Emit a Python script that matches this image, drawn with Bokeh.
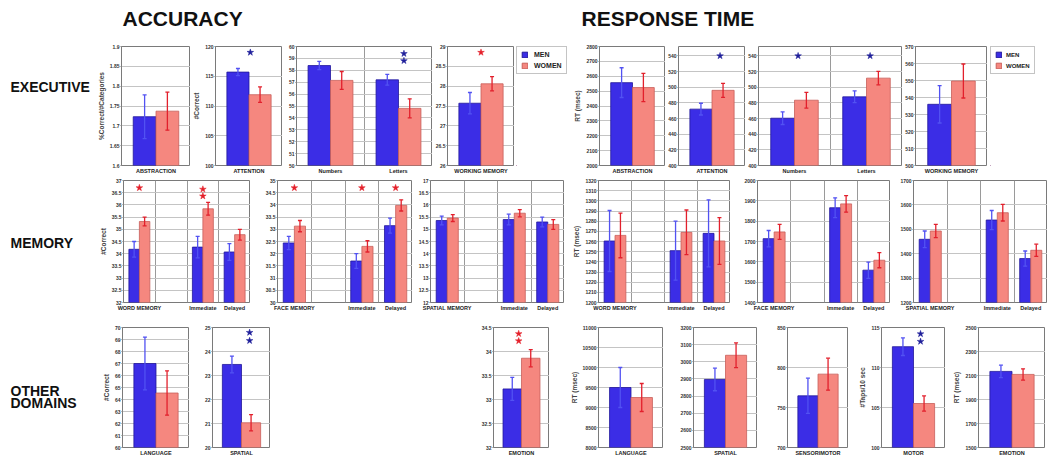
from bokeh.plotting import figure
from bokeh.layouts import column, row
from bokeh.models import (Range1d, FixedTicker, Whisker, TeeHead, ColumnDataSource,
                          Legend, LegendItem)
from bokeh.core.properties import value
from bokeh.embed import file_html
from bokeh.resources import INLINE

# ----------------------------------------------------------------- DATA
# ACCURACY - EXECUTIVE
abs_acc_cats = ["ABSTRACTION"]
abs_acc_men, abs_acc_men_se = [1.723], [0.055]
abs_acc_women, abs_acc_women_se = [1.737], [0.048]

att_acc_cats = ["ATTENTION"]
att_acc_men, att_acc_men_se = [115.7], [0.6]
att_acc_women, att_acc_women_se = [111.9], [1.3]
att_acc_star_cats, att_acc_stars = ["ATTENTION"], [119.0]

nl_acc_cats = ["Numbers", "Letters"]
nl_acc_men, nl_acc_men_se = [58.4, 57.2], [0.35, 0.45]
nl_acc_women, nl_acc_women_se = [57.15, 54.8], [0.75, 0.8]
nl_acc_star_cats, nl_acc_stars = ["Letters", "Letters"], [59.4, 58.8]

wm_acc_cats = ["WORKING MEMORY"]
wm_acc_men, wm_acc_men_se = [27.57], [0.27]
wm_acc_women, wm_acc_women_se = [28.06], [0.18]
wm_acc_star_cats, wm_acc_stars = ["WORKING MEMORY"], [28.85]

# RESPONSE TIME - EXECUTIVE
abs_rt_men, abs_rt_men_se = [2557], [100]
abs_rt_women, abs_rt_women_se = [2524], [95]

att_rt_men, att_rt_men_se = [472], [7.5]
att_rt_women, att_rt_women_se = [496], [9]
att_rt_star_cats, att_rt_stars = ["ATTENTION"], [540]

nl_rt_men, nl_rt_men_se = [460.4, 487.7], [8, 7.5]
nl_rt_women, nl_rt_women_se = [483.4, 511.6], [10, 8.5]
nl_rt_star_cats, nl_rt_stars = ["Numbers", "Letters"], [540, 540]

wm_rt_men, wm_rt_men_se = [536], [11]
wm_rt_women, wm_rt_women_se = [549.7], [10]

# MEMORY (slot 2 of each panel is an empty gap)
word_cats = ["WORD MEMORY", " ", "Immediate", "Delayed"]
face_cats = ["FACE MEMORY", " ", "Immediate", "Delayed"]
spat_cats = ["SPATIAL MEMORY", " ", "Immediate", "Delayed"]
word_bar_cats = ["WORD MEMORY", "Immediate", "Delayed"]
face_bar_cats = ["FACE MEMORY", "Immediate", "Delayed"]
spat_bar_cats = ["SPATIAL MEMORY", "Immediate", "Delayed"]

word_acc_men, word_acc_men_se = [34.18, 34.27, 34.07], [0.32, 0.44, 0.34]
word_acc_women, word_acc_women_se = [35.32, 35.84, 34.78], [0.18, 0.26, 0.22]
word_acc_star_cats = ["WORD MEMORY", "Immediate", "Immediate"]
word_acc_stars = [36.7, 36.64, 36.36]

face_acc_men, face_acc_men_se = [32.44, 31.7, 33.15], [0.27, 0.3, 0.31]
face_acc_women, face_acc_women_se = [33.13, 32.3, 33.98], [0.23, 0.23, 0.23]
face_acc_star_cats = ["FACE MEMORY", "Immediate", "Delayed"]
face_acc_stars = [34.7, 34.7, 34.7]

spat_acc_men, spat_acc_men_se = [15.36, 15.4, 15.3], [0.18, 0.22, 0.2]
spat_acc_women, spat_acc_women_se = [15.46, 15.66, 15.2], [0.14, 0.15, 0.2]

word_rt_men, word_rt_men_se = [1260.5, 1251, 1268], [30, 29, 33]
word_rt_women, word_rt_women_se = [1266, 1269, 1260.5], [22, 22, 23]

face_rt_men, face_rt_men_se = [1714, 1866, 1559], [40, 49, 40]
face_rt_women, face_rt_women_se = [1747, 1885, 1608], [37, 41, 37]

spat_rt_men, spat_rt_men_se = [1459, 1538, 1380], [34, 39, 31]
spat_rt_women, spat_rt_women_se = [1493, 1568, 1414], [27, 34, 25]

# OTHER DOMAINS
lang_acc_men, lang_acc_men_se = [67.0], [2.2]
lang_acc_women, lang_acc_women_se = [64.54], [1.85]

spatial_acc_men, spatial_acc_men_se = [23.46], [0.35]
spatial_acc_women, spatial_acc_women_se = [21.03], [0.34]
spatial_acc_star_cats, spatial_acc_stars = ["SPATIAL", "SPATIAL"], [24.79, 24.45]

emo_acc_men, emo_acc_men_se = [33.22], [0.24]
emo_acc_women, emo_acc_women_se = [33.86], [0.18]
emo_acc_star_cats, emo_acc_stars = ["EMOTION", "EMOTION"], [34.37, 34.22]

lang_rt_men, lang_rt_men_se = [9500], [500]
lang_rt_women, lang_rt_women_se = [9250], [350]

spatial_rt_men, spatial_rt_men_se = [2897], [66]
spatial_rt_women, spatial_rt_women_se = [3038], [72]

sens_rt_men, sens_rt_men_se = [764.6], [22]
sens_rt_women, sens_rt_women_se = [791.7], [20]

motor_men, motor_men_se = [112.6], [1.1]
motor_women, motor_women_se = [105.5], [0.95]
motor_star_cats, motor_stars = ["MOTOR", "MOTOR"], [114.2, 113.25]

emo_rt_men, emo_rt_men_se = [2134], [52]
emo_rt_women, emo_rt_women_se = [2109], [47]

series_labels = ["MEN", "WOMEN"]

# ----------------------------------------------------------------- STYLE
FONT = "Liberation Sans"
MEN_FILL, MEN_EDGE, MEN_ERR, MEN_STAR = "#3b2de6", "#22189a", "#5252f2", "#1f1f9a"
WOMEN_FILL, WOMEN_EDGE, WOMEN_ERR, WOMEN_STAR = "#f5877f", "#c8605a", "#e2202c", "#e4202a"
LEFT = 0


def ticks_of(y0, y1, step):
    n = int(round((y1 - y0) / step))
    return [round(y0 + i * step, 6) for i in range(n + 1)]


def bar_panel(spec, bl, bt, fh, bb):
    cats = spec["cats"]
    n = len(cats)
    fw = spec["x1"] - spec["x0"]
    y0, y1 = spec["yr"]
    p = figure(width=bl + fw, height=bt + fh + bb, title=None,
               x_range=Range1d(0, n), y_range=Range1d(y0, y1),
               output_backend="svg", toolbar_location=None, tools="",
               min_border_left=bl, min_border_right=0,
               min_border_top=bt, min_border_bottom=bb)
    p.background_fill_color = "white"
    p.border_fill_color = "white"
    p.outline_line_color = "#7a7a7a"
    p.outline_line_width = 1

    centers = {c: i + 0.5 for i, c in enumerate(cats)}
    xs = [centers[c] for c in spec.get("bar_cats", cats)]
    half = 0.165
    for sign, vals, ses, fill, edge, err in (
            (-1, spec["men"], spec["men_se"], MEN_FILL, MEN_EDGE, MEN_ERR),
            (1, spec["women"], spec["women_se"], WOMEN_FILL, WOMEN_EDGE, WOMEN_ERR)):
        src = ColumnDataSource(dict(
            x=[x + sign * half for x in xs], top=vals,
            lower=[v - s for v, s in zip(vals, ses)],
            upper=[v + s for v, s in zip(vals, ses)]))
        p.vbar(x="x", top="top", bottom=y0, width=0.33, source=src,
               fill_color=fill, line_color=edge, line_width=0.8)
        w = Whisker(source=src, base="x", lower="lower", upper="upper",
                    line_color=err, line_width=1.3, level="overlay",
                    upper_head=TeeHead(size=4, line_color=err, line_width=1.3),
                    lower_head=TeeHead(size=4, line_color=err, line_width=1.3))
        p.add_layout(w)

    if spec.get("star_cats"):
        dx = spec.get("star_dx", 0.0)
        p.scatter(x=[centers[c] + dx for c in spec["star_cats"]], y=spec["stars"],
                  marker="star", size=7, color=spec["star_color"], line_width=0.5)

    yt = ticks_of(y0, spec.get("ytop", y1), spec["step"])
    ya = p.yaxis[0]
    ya.ticker = FixedTicker(ticks=yt)
    ya.major_label_overrides = {t: f"{t:g}" for t in yt}
    ya.major_label_text_font = FONT
    ya.major_label_text_font_style = "bold"
    ya.major_label_text_font_size = "5px"
    ya.major_label_text_color = "#333333"
    ya.major_label_standoff = 1
    ya.major_tick_out = 1
    ya.major_tick_in = 0
    ya.major_tick_line_color = "#777777"
    ya.minor_tick_line_color = None
    ya.axis_line_color = None
    if spec.get("ylabel"):
        ya.axis_label = spec["ylabel"]
        ya.axis_label_text_font = FONT
        ya.axis_label_text_font_style = "bold"
        ya.axis_label_text_font_size = "6.5px"
        ya.axis_label_standoff = 2

    xa = p.xaxis[0]
    xa.ticker = FixedTicker(ticks=[i + 0.5 for i in range(n)])
    xa.major_label_overrides = {i + 0.5: c for i, c in enumerate(cats)}
    xa.major_label_text_font = FONT
    xa.major_label_text_font_style = "bold"
    xa.major_label_text_font_size = "5.5px"
    xa.major_label_text_color = "#222222"
    xa.major_label_standoff = 2
    xa.major_tick_out = 0
    xa.major_tick_in = 0
    xa.minor_tick_line_color = None
    xa.axis_line_color = None

    p.ygrid.ticker = FixedTicker(ticks=yt)
    p.ygrid.grid_line_color = "#c4c4c4"
    p.ygrid.grid_line_width = 1
    if n > 1:
        p.xgrid.ticker = FixedTicker(ticks=list(range(1, n)))
        p.xgrid.grid_line_color = "#9a9a9a"
    else:
        p.xgrid.grid_line_color = None
    return p


def blank_fig(w, h, bl=0, bt=0):
    p = figure(width=w, height=h, title=None, x_range=Range1d(0, 1), y_range=Range1d(0, 1),
               x_axis_type=None, y_axis_type=None, output_backend="svg",
               toolbar_location=None, tools="", min_border_left=bl, min_border_right=0,
               min_border_top=bt, min_border_bottom=0)
    p.outline_line_color = None
    p.background_fill_color = "white"
    p.border_fill_color = "white"
    return p


def text_fig(w, h, items, size):
    p = blank_fig(w, h)
    p.x_range = Range1d(0, w)
    p.y_range = Range1d(0, h)
    for x, y_top, txt in items:
        p.text(x=[x], y=[h - y_top], text=[txt], text_font=value(FONT),
               text_font_style="bold", text_font_size=size, text_baseline="middle",
               text_align="left", text_color="#111111")
    return p


def legend_fig(w, h, x_off, top_off, font_size, standoff):
    p = blank_fig(w, h, bl=x_off, bt=top_off)
    # legend proxies: one bar each, placed outside the visible range
    r1 = p.vbar(x=[-5], top=[-5], bottom=-6, width=1, fill_color=MEN_FILL, line_color=MEN_EDGE)
    r2 = p.vbar(x=[-5], top=[-5], bottom=-6, width=1, fill_color=WOMEN_FILL, line_color=WOMEN_EDGE)
    leg = Legend(items=[LegendItem(label=series_labels[0], renderers=[r1]),
                        LegendItem(label=series_labels[1], renderers=[r2])],
                 location="top_left", orientation="vertical",
                 glyph_width=7, glyph_height=7, label_height=7, label_width=10,
                 label_standoff=standoff, spacing=4, padding=4, margin=0,
                 border_line_color="#8a8a8a", border_line_width=1,
                 background_fill_color="white", background_fill_alpha=1,
                 label_text_font=FONT, label_text_font_style="bold",
                 label_text_font_size=font_size, label_text_color="#222222")
    p.add_layout(leg)
    return p


def build_row(label_items, label_w, specs, bt, fh, bb):
    h = bt + fh + bb
    kids = [text_fig(label_w, h, label_items, "14px")]
    cursor = LEFT + label_w
    for spec in specs:
        if spec.get("legend"):
            lw = spec["x1"] - cursor
            kids.append(legend_fig(lw, h, spec["x_off"], spec["top_off"],
                                   spec["font"], spec["standoff"]))
            cursor = spec["x1"]
            continue
        bl = spec["x0"] - cursor
        kids.append(bar_panel(spec, bl, bt, fh, bb))
        cursor = spec["x1"]
    return row(*kids, spacing=0)


row1 = [
    dict(x0=121, x1=190, cats=abs_acc_cats, men=abs_acc_men, men_se=abs_acc_men_se,
         women=abs_acc_women, women_se=abs_acc_women_se, yr=(1.6, 1.9), step=0.05,
         ylabel="%Correct/#Categories"),
    dict(x0=214, x1=282, cats=att_acc_cats, men=att_acc_men, men_se=att_acc_men_se,
         women=att_acc_women, women_se=att_acc_women_se, yr=(100, 120), step=5,
         ylabel="#Correct", star_cats=att_acc_star_cats, stars=att_acc_stars,
         star_color=MEN_STAR, star_dx=0.02),
    dict(x0=296, x1=432, cats=nl_acc_cats, men=nl_acc_men, men_se=nl_acc_men_se,
         women=nl_acc_women, women_se=nl_acc_women_se, yr=(50, 60), step=1,
         star_cats=nl_acc_star_cats, stars=nl_acc_stars, star_color=MEN_STAR, star_dx=0.08),
    dict(x0=447, x1=514, cats=wm_acc_cats, men=wm_acc_men, men_se=wm_acc_men_se,
         women=wm_acc_women, women_se=wm_acc_women_se, yr=(26, 29), step=0.5,
         star_cats=wm_acc_star_cats, stars=wm_acc_stars, star_color=WOMEN_STAR),
    dict(legend=True, x1=571, x_off=2, top_off=6, font="7px", standoff=6),
    dict(x0=599, x1=665, cats=abs_acc_cats, men=abs_rt_men, men_se=abs_rt_men_se,
         women=abs_rt_women, women_se=abs_rt_women_se, yr=(2000, 2800), step=100,
         ylabel="RT (msec)"),
    dict(x0=675, x1=745, cats=att_acc_cats, men=att_rt_men, men_se=att_rt_men_se,
         women=att_rt_women, women_se=att_rt_women_se, yr=(400, 552), step=20, ytop=540,
         star_cats=att_rt_star_cats, stars=att_rt_stars, star_color=MEN_STAR, star_dx=0.12),
    dict(x0=755, x1=902, cats=nl_acc_cats, men=nl_rt_men, men_se=nl_rt_men_se,
         women=nl_rt_women, women_se=nl_rt_women_se, yr=(400, 552), step=20, ytop=540,
         star_cats=nl_rt_star_cats, stars=nl_rt_stars, star_color=MEN_STAR, star_dx=0.05),
    dict(x0=912, x1=987, cats=wm_acc_cats, men=wm_rt_men, men_se=wm_rt_men_se,
         women=wm_rt_women, women_se=wm_rt_women_se, yr=(500, 570), step=10),
    dict(legend=True, x1=1048, x_off=3, top_off=4, font="6px", standoff=4),
]

row2 = [
    dict(x0=122, x1=250, cats=word_cats, bar_cats=word_bar_cats, men=word_acc_men,
         men_se=word_acc_men_se, women=word_acc_women, women_se=word_acc_women_se,
         yr=(32, 37), step=0.5, ylabel="#Correct", star_cats=word_acc_star_cats,
         stars=word_acc_stars, star_color=WOMEN_STAR),
    dict(x0=277, x1=412, cats=face_cats, bar_cats=face_bar_cats, men=face_acc_men,
         men_se=face_acc_men_se, women=face_acc_women, women_se=face_acc_women_se,
         yr=(30, 35), step=0.5, star_cats=face_acc_star_cats, stars=face_acc_stars,
         star_color=WOMEN_STAR),
    dict(x0=430, x1=564, cats=spat_cats, bar_cats=spat_bar_cats, men=spat_acc_men,
         men_se=spat_acc_men_se, women=spat_acc_women, women_se=spat_acc_women_se,
         yr=(12, 17), step=0.5),
    dict(x0=598, x1=730, cats=word_cats, bar_cats=word_bar_cats, men=word_rt_men,
         men_se=word_rt_men_se, women=word_rt_women, women_se=word_rt_women_se,
         yr=(1200, 1320), step=10, ylabel="RT (msec)"),
    dict(x0=757, x1=890, cats=face_cats, bar_cats=face_bar_cats, men=face_rt_men,
         men_se=face_rt_men_se, women=face_rt_women, women_se=face_rt_women_se,
         yr=(1400, 2000), step=100),
    dict(x0=913, x1=1047, cats=spat_cats, bar_cats=spat_bar_cats, men=spat_rt_men,
         men_se=spat_rt_men_se, women=spat_rt_women, women_se=spat_rt_women_se,
         yr=(1200, 1700), step=100),
]

row3 = [
    dict(x0=122, x1=189, cats=["LANGUAGE"], men=lang_acc_men, men_se=lang_acc_men_se,
         women=lang_acc_women, women_se=lang_acc_women_se, yr=(60, 70), step=1,
         ylabel="#Correct"),
    dict(x0=212, x1=270, cats=["SPATIAL"], men=spatial_acc_men, men_se=spatial_acc_men_se,
         women=spatial_acc_women, women_se=spatial_acc_women_se, yr=(20, 25), step=1,
         star_cats=spatial_acc_star_cats, stars=spatial_acc_stars, star_color=MEN_STAR,
         star_dx=0.14),
    dict(x0=493, x1=549, cats=["EMOTION"], men=emo_acc_men, men_se=emo_acc_men_se,
         women=emo_acc_women, women_se=emo_acc_women_se, yr=(32, 34.5), step=0.5,
         star_cats=emo_acc_star_cats, stars=emo_acc_stars, star_color=WOMEN_STAR,
         star_dx=-0.05),
    dict(x0=598, x1=663, cats=["LANGUAGE"], men=lang_rt_men, men_se=lang_rt_men_se,
         women=lang_rt_women, women_se=lang_rt_women_se, yr=(8000, 11000), step=500,
         ylabel="RT (msec)"),
    dict(x0=693, x1=757, cats=["SPATIAL"], men=spatial_rt_men, men_se=spatial_rt_men_se,
         women=spatial_rt_women, women_se=spatial_rt_women_se, yr=(2500, 3200), step=100),
    dict(x0=787, x1=848, cats=["SENSORIMOTOR"], men=sens_rt_men, men_se=sens_rt_men_se,
         women=sens_rt_women, women_se=sens_rt_women_se, yr=(700, 850), step=50),
    dict(x0=881, x1=945, cats=["MOTOR"], men=motor_men, men_se=motor_men_se,
         women=motor_women, women_se=motor_women_se, yr=(100, 115), step=5,
         ylabel="#Taps/10 sec", star_cats=motor_star_cats, stars=motor_stars,
         star_color=MEN_STAR, star_dx=0.11),
    dict(x0=978, x1=1045, cats=["EMOTION"], men=emo_rt_men, men_se=emo_rt_men_se,
         women=emo_rt_women, women_se=emo_rt_women_se, yr=(1500, 2500), step=200,
         ylabel="RT (msec)"),
]

title = text_fig(1048, 40, [(122, 17.5, "ACCURACY"), (581, 17.5, "RESPONSE TIME")], "21px")
r1 = build_row([(10, 47, "EXECUTIVE")], 94, row1, 4, 121, 12)
r2 = build_row([(10, 70, "MEMORY")], 96, row2, 3, 122, 12)
r3 = build_row([(10, 77, "OTHER"), (10, 91, "DOMAINS")], 96, row3, 13, 120, 12)

page = column(title, r1, r2, r3, spacing=0)
open("out.html", "w").write(file_html(page, INLINE))
